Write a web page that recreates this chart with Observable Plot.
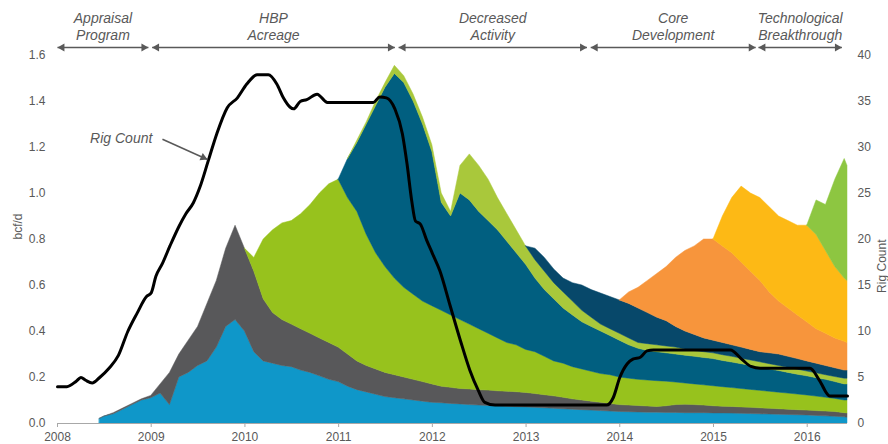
<!DOCTYPE html>
<html><head><meta charset="utf-8">
<script src="https://cdn.jsdelivr.net/npm/d3@7"></script>
<script src="https://cdn.jsdelivr.net/npm/@observablehq/plot@0.6"></script>
<style>html,body{margin:0;padding:0;background:#fff;} #chart{width:888px;height:444px;overflow:hidden;}</style>
</head><body><div id="chart"></div>
<script>
// ---------- data ----------
const times = [2008.45,2008.5,2008.6,2008.7,2008.8,2008.9,2009.0,2009.1,2009.2,2009.3,
  2009.4,2009.5,2009.6,2009.7,2009.8,2009.9,2010.0,2010.1,2010.2,2010.3,
  2010.4,2010.5,2010.6,2010.7,2010.8,2010.9,2011.0,2011.1,2011.2,2011.3,
  2011.4,2011.5,2011.6,2011.7,2011.8,2011.9,2012.0,2012.1,2012.2,2012.3,
  2012.4,2012.5,2012.6,2012.7,2012.8,2012.9,2013.0,2013.1,2013.2,2013.3,
  2013.4,2013.5,2013.6,2013.7,2013.8,2013.9,2014.0,2014.1,2014.2,2014.3,
  2014.4,2014.5,2014.6,2014.7,2014.8,2014.9,2015.0,2015.1,2015.2,2015.3,
  2015.4,2015.5,2015.6,2015.7,2015.8,2015.9,2016.0,2016.1,2016.2,2016.3,
  2016.4,2016.43];

const layerNames  = ["L1","L2","L3","L4","L5","L6","L7","L8","L9"];
const layerColors = ["#0f97c9","#58585a","#97c21d","#015f80","#a9c83b","#07486a","#f7953c","#fdb915","#8dc641"];
const layerStart  = [2008.45, 2008.45, 2010.0, 2011.0, 2011.1, 2013.0, 2014.0, 2015.0, 2016.0];

// cumulative top of each stacked layer (bcf/d), from its start year onward
const topL1 = [0.02,0.03,0.04,0.06,0.08,0.10,0.11,0.13,0.08,0.20,
  0.22,0.25,0.27,0.33,0.42,0.45,0.40,0.31,0.27,0.26,
  0.25,0.245,0.23,0.22,0.205,0.19,0.18,0.16,0.145,0.135,
  0.125,0.115,0.11,0.105,0.10,0.095,0.09,0.088,0.085,0.083,
  0.08,0.078,0.076,0.075,0.073,0.071,0.07,0.068,0.066,0.064,
  0.062,0.06,0.058,0.056,0.054,0.052,0.05,0.049,0.048,0.047,
  0.047,0.046,0.046,0.045,0.045,0.045,0.044,0.044,0.043,0.042,
  0.041,0.040,0.039,0.038,0.037,0.036,0.035,0.033,0.031,0.029,
  0.027,0.025];
const topL2 = [0.02,0.03,0.045,0.065,0.085,0.105,0.12,0.17,0.22,0.30,
  0.36,0.42,0.52,0.62,0.76,0.86,0.76,0.66,0.54,0.48,
  0.45,0.43,0.41,0.39,0.37,0.35,0.33,0.30,0.27,0.25,
  0.235,0.22,0.21,0.20,0.19,0.18,0.17,0.16,0.155,0.15,
  0.148,0.145,0.143,0.14,0.138,0.136,0.133,0.128,0.123,0.118,
  0.112,0.105,0.10,0.095,0.09,0.085,0.08,0.078,0.076,0.074,
  0.072,0.075,0.08,0.082,0.08,0.078,0.075,0.073,0.072,0.07,
  0.068,0.066,0.064,0.062,0.06,0.058,0.056,0.054,0.052,0.05,
  0.045,0.044];
const topL3 = [0.76,0.72,0.80,0.84,0.87,0.88,0.91,0.95,1.00,1.04,
  1.06,0.98,0.92,0.82,0.74,0.68,0.63,0.59,0.56,0.53,
  0.51,0.49,0.47,0.45,0.43,0.41,0.39,0.37,0.35,0.34,
  0.32,0.31,0.29,0.27,0.26,0.245,0.235,0.225,0.215,0.21,
  0.20,0.195,0.19,0.187,0.184,0.182,0.178,0.174,0.17,0.166,
  0.162,0.158,0.154,0.15,0.146,0.142,0.138,0.134,0.13,0.126,
  0.122,0.117,0.112,0.107,0.10,0.10];
const topL4 = [1.06,1.15,1.22,1.30,1.38,1.46,1.52,1.48,1.40,1.30,
  1.18,0.96,0.90,1.00,0.97,0.92,0.88,0.84,0.79,0.74,
  0.69,0.63,0.58,0.54,0.50,0.47,0.44,0.42,0.40,0.38,
  0.36,0.34,0.325,0.315,0.31,0.305,0.30,0.295,0.29,0.285,
  0.28,0.272,0.265,0.258,0.25,0.243,0.235,0.228,0.22,0.212,
  0.205,0.197,0.19,0.18,0.17,0.17];
const topL5 = [1.15,1.23,1.31,1.40,1.48,1.555,1.51,1.43,1.33,
  1.21,1.00,0.92,1.12,1.17,1.12,1.06,0.98,0.91,0.84,
  0.77,0.71,0.66,0.61,0.57,0.53,0.49,0.46,0.43,0.41,
  0.39,0.37,0.35,0.345,0.34,0.335,0.33,0.322,0.315,0.31,
  0.305,0.297,0.29,0.282,0.274,0.266,0.258,0.25,0.242,0.234,
  0.226,0.218,0.21,0.202,0.195,0.195];
const topL6 = [0.77,0.76,0.72,0.67,0.63,0.61,0.60,0.58,0.565,0.55,
  0.535,0.52,0.50,0.48,0.46,0.445,0.42,0.40,0.385,0.37,
  0.36,0.35,0.34,0.33,0.32,0.31,0.305,0.30,0.29,0.28,
  0.27,0.26,0.25,0.24,0.23,0.23];
const topL7 = [0.535,0.57,0.59,0.62,0.65,0.68,0.72,0.75,0.77,0.80,
  0.80,0.77,0.74,0.70,0.66,0.62,0.57,0.53,0.50,0.47,
  0.44,0.41,0.39,0.37,0.355,0.35];
const topL8 = [0.80,0.90,0.98,1.03,1.00,0.98,0.94,0.90,0.88,0.86,
  0.86,0.82,0.75,0.68,0.63,0.62];
const topL9 = [0.86,0.97,0.95,1.06,1.15,1.12];

// rig count (right axis)
const rigYears  = [2008.0,2008.1,2008.2,2008.25,2008.3,2008.37,2008.45,2008.55,2008.65,2008.75,
  2008.85,2008.95,2009.0,2009.05,2009.12,2009.2,2009.3,2009.37,2009.45,2009.52,
  2009.61,2009.7,2009.81,2009.92,2010.02,2010.13,2010.25,2010.34,2010.41,2010.48,
  2010.52,2010.59,2010.66,2010.77,2010.88,2011.26,2011.37,2011.44,2011.51,2011.6,
  2011.68,2011.73,2011.78,2011.82,2011.87,2011.94,2012.0,2012.08,2012.19,2012.3,
  2012.4,2012.49,2012.56,2012.67,2013.86,2013.93,2014.0,2014.08,2014.14,2014.22,
  2014.29,2014.36,2015.18,2015.3,2015.4,2015.5,2016.03,2016.13,2016.24,2016.43];
const rigCounts = [4,4,4.6,5,4.7,4.4,5,6,7.4,10,
  12,13.8,14.2,16,17.4,19.3,21.5,22.8,24,25.7,
  28.6,31.5,34.3,35.4,36.9,37.9,37.9,36.9,35.4,34.4,
  34.2,35,35.2,35.8,34.9,34.9,34.9,35.5,35.4,34.2,
  31.5,28.2,24.2,22,21.7,19.9,18.5,16.6,12.8,9,
  5.8,3.6,2.3,2,2,2.8,5,6.5,7,7.2,
  7.9,8,8,7,6.2,6,6,4.7,3,3];
const rigMax = 40;

const yearTicks  = [2008,2009,2010,2011,2012,2013,2014,2015,2016];
const leftTicks  = [0,0.2,0.4,0.6,0.8,1.0,1.2,1.4,1.6];
const rightTicks = [0,5,10,15,20,25,30,35,40];

const phaseLabels = ["Appraisal\nProgram","HBP\nAcreage","Decreased\nActivity","Core\nDevelopment","Technological\nBreakthrough"];
const phaseStart  = [2008.0, 2009.01, 2011.64, 2013.69, 2015.48];
const phaseEnd    = [2008.97, 2011.60, 2013.65, 2015.45, 2016.37];

const rigNoteText = "Rig Count";
const rigNoteAt   = {year: 2008.68, rigs: 31.0};
const rigArrowFrom = {year: 2009.12, rigs: 30.9};
const rigArrowTo   = {year: 2009.6, rigs: 28.7};

// ---------- build ----------
const yMax = 1.6;
const rig2y = r => r * yMax / rigMax;
const layerTops = [topL1,topL2,topL3,topL4,topL5,topL6,topL7,topL8,topL9];
const rows = [];
let prev = times.map(() => 0);
layerTops.forEach((tops, k) => {
  const i0 = times.indexOf(layerStart[k]);
  const cur = times.map((t, i) => i < i0 ? prev[i] : Math.max(prev[i], tops[i - i0]));
  times.forEach((t, i) => { if (i >= i0) rows.push({t, layer: layerNames[k], y1: prev[i], y2: cur[i]}); });
  prev = cur;
});
const rig = rigYears.map((t, i) => ({t, r: rigCounts[i]}));
const phases = phaseLabels.map((label, i) => ({label, start: phaseStart[i], end: phaseEnd[i]}));
const yArrow = yMax + 8 / 230;
const grey = "#595959";

const chart = Plot.plot({
  width: 888, height: 444,
  marginLeft: 57, marginRight: 41, marginTop: 55, marginBottom: 21,
  x: {domain: [2008, 2016.43]},
  y: {domain: [0, yMax]},
  color: {domain: layerNames, range: layerColors},
  style: {fontFamily: "'Liberation Sans', Arial, sans-serif", fontSize: "12px", color: grey, background: "#fff", overflow: "visible"},
  marks: [
    Plot.areaY(rows, {x: "t", y1: "y1", y2: "y2", fill: "layer", z: "layer", stroke: "layer", strokeWidth: 0.5}),
    Plot.ruleY([0], {stroke: "#a8a8a8"}),
    Plot.line(rig, {x: "t", y: d => rig2y(d.r), stroke: "#000", strokeWidth: 3, curve: "monotone-x"}),
    Plot.axisX({ticks: yearTicks, tickFormat: d => String(d), tickSize: 4, tickPadding: 5, stroke: "#a8a8a8", fill: grey, label: null}),
    Plot.axisY({anchor: "left", ticks: leftTicks, tickFormat: d => d.toFixed(1), tickSize: 0, tickPadding: 12, fill: grey, label: null}),
    Plot.axisY({anchor: "right", ticks: rightTicks.map(rig2y), tickFormat: d => String(Math.round(d * rigMax / yMax)), tickSize: 0, tickPadding: 10, fill: grey, label: null}),
    Plot.text(["bcf/d"], {frameAnchor: "left", dx: -39, rotate: -90, fontSize: 12, fill: grey}),
    Plot.text(["Rig Count"], {frameAnchor: "right", dx: 35, rotate: -90, fontSize: 12, fill: grey}),
    // phase arrows
    Plot.link(phases, {x1: "start", x2: "end", y1: () => yArrow, y2: () => yArrow, stroke: grey, strokeWidth: 1.5}),
    Plot.dot(phases, {x: "end", y: () => yArrow, symbol: "triangle", rotate: 90, r: 3, fill: grey, stroke: null, dx: -4.6}),
    Plot.dot(phases, {x: "start", y: () => yArrow, symbol: "triangle", rotate: -90, r: 3, fill: grey, stroke: null, dx: 4.6}),
    Plot.text(phases, {x: d => (d.start + d.end) / 2, frameAnchor: "top", text: "label", dy: -44, lineAnchor: "top", lineHeight: 1.2, fontStyle: "italic", fontSize: 14, fill: grey}),
    // rig count note
    Plot.text([rigNoteAt], {x: "year", y: d => rig2y(d.rigs), text: () => rigNoteText, fontStyle: "italic", fontSize: 14, fill: grey}),
    Plot.link([{a: rigArrowFrom, b: rigArrowTo}], {x1: d => d.a.year, y1: d => rig2y(d.a.rigs), x2: d => d.b.year, y2: d => rig2y(d.b.rigs), stroke: grey, strokeWidth: 1.5}),
    Plot.dot([rigArrowTo], {x: "year", y: d => rig2y(d.rigs), symbol: "triangle", rotate: 114, r: 3, fill: grey, stroke: null, dx: -4.2, dy: -1.9})
  ]
});
document.getElementById("chart").appendChild(chart);
</script>
</body></html>
